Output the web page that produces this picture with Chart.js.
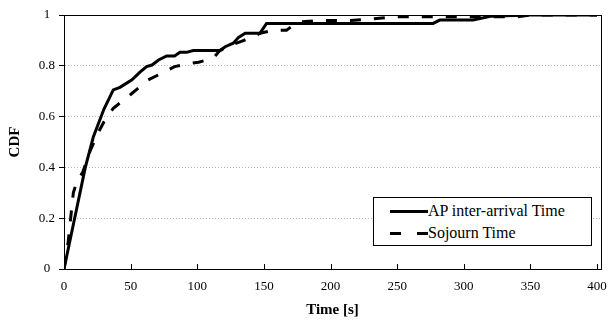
<!DOCTYPE html>
<html>
<head>
<meta charset="utf-8">
<script src="https://cdn.jsdelivr.net/npm/chart.js@4.4.0/dist/chart.umd.min.js"></script>
<style>
  html, body { margin: 0; padding: 0; background: #fff; }
  #wrap { position: relative; width: 610px; height: 322px; }
  #legend {
    position: absolute; left: 373px; top: 197px; width: 217px; height: 47px;
    border: 1px solid #000; background: #fff;
    font-family: "Liberation Serif", "Times New Roman", serif; font-size: 16px; color: #000;
  }
  .row { position: absolute; left: 0; height: 20px; line-height: 20px; }
  .row span.txt { position: absolute; left: 54px; white-space: nowrap; }
  .seg { position: absolute; height: 3px; background: #000; }
</style>
</head>
<body>
<div id="wrap">
  <canvas id="c" width="610" height="322"></canvas>
  <div id="legend">
    <div class="row" style="top:3px;width:217px;">
      <div class="seg" style="left:16px;top:9px;width:38px;"></div>
      <span class="txt">AP inter-arrival Time</span>
    </div>
    <div class="row" style="top:25px;width:217px;">
      <div class="seg" style="left:16px;top:9px;width:11px;"></div>
      <div class="seg" style="left:43px;top:9px;width:11px;"></div>
      <span class="txt">Sojourn Time</span>
    </div>
  </div>
</div>
<script>
// ---- data ----
const seriesNames = ["AP inter-arrival Time", "Sojourn Time"];

const apTime = [0, 8, 16, 22, 30, 37, 42, 51, 57, 62, 66, 71, 77, 83, 87, 92, 97, 117, 121, 127, 131, 136, 147, 152, 277, 282, 307, 320, 350, 400];
const apCdf  = [0, 0.2, 0.4, 0.52, 0.63, 0.705, 0.715, 0.745, 0.775, 0.797, 0.803, 0.823, 0.839, 0.839, 0.853, 0.853, 0.86, 0.86, 0.875, 0.889, 0.912, 0.928, 0.928, 0.967, 0.967, 0.98, 0.98, 0.995, 1, 1];

const sojTime = [0, 3, 5, 7, 10, 14, 20, 26, 30, 37, 50, 63, 78, 83, 95, 101, 112, 117, 125, 135, 142, 147, 157, 167, 175, 190, 215, 231, 249, 340, 350, 400];
const sojCdf  = [0, 0.1, 0.2, 0.3, 0.35, 0.38, 0.47, 0.54, 0.58, 0.633, 0.687, 0.744, 0.783, 0.797, 0.81, 0.814, 0.83, 0.86, 0.88, 0.9, 0.915, 0.928, 0.94, 0.94, 0.972, 0.978, 0.978, 0.984, 0.993, 0.993, 1, 1];

const xTicks = [0, 50, 100, 150, 200, 250, 300, 350, 400];
const yTicks = [0, 0.2, 0.4, 0.6, 0.8, 1];

const toPts = (xs, ys) => xs.map((x, i) => ({ x: x, y: ys[i] }));

const frame = {
  id: 'frame',
  afterDraw(chart) {
    const { ctx, chartArea: a, scales } = chart;
    ctx.save();
    ctx.strokeStyle = '#000';
    ctx.lineWidth = 1;
    ctx.strokeRect(Math.round(a.left) + 0.5, Math.round(a.top) + 0.5,
                   Math.round(a.right - a.left), Math.round(a.bottom - a.top));
    // inward x ticks
    ctx.beginPath();
    xTicks.forEach(v => {
      const px = Math.round(scales.x.getPixelForValue(v)) + 0.5;
      ctx.moveTo(px, a.bottom);
      ctx.lineTo(px, a.bottom - 5);
    });
    ctx.stroke();
    ctx.restore();
  }
};

const serif = '"Liberation Serif", "Times New Roman", serif';

new Chart(document.getElementById('c'), {
  type: 'line',
  data: {
    datasets: [
      { label: seriesNames[0], data: toPts(apTime, apCdf), borderColor: '#000', borderWidth: 3,
        pointRadius: 0, tension: 0, fill: false },
      { label: seriesNames[1], data: toPts(sojTime, sojCdf), borderColor: '#000', borderWidth: 3,
        borderDash: [11, 13], pointRadius: 0, tension: 0, fill: false }
    ]
  },
  options: {
    responsive: false,
    devicePixelRatio: 1,
    animation: false,
    layout: { padding: { left: 0, right: 9, top: 15, bottom: 0 } },
    plugins: { legend: { display: false }, tooltip: { enabled: false } },
    scales: {
      x: {
        type: 'linear', min: 0, max: 403,
        afterBuildTicks: s => { s.ticks = xTicks.map(v => ({ value: v })); },
        afterFit: s => { s.height = 53; s.paddingRight = 0; },
        grid: { display: true, drawOnChartArea: false, drawTicks: false },
        border: { display: true, color: '#000', width: 1 },
        ticks: { color: '#000', font: { family: serif, size: 13 }, padding: 10, maxRotation: 0 },
        title: { display: true, text: 'Time [s]', color: '#000',
                 font: { family: serif, size: 15, weight: 'bold' }, padding: { top: 2, bottom: 3 } }
      },
      y: {
        type: 'linear', min: 0, max: 1,
        afterBuildTicks: s => { s.ticks = yTicks.map(v => ({ value: v })); },
        afterFit: s => { s.width = 64; },
        grid: {
          drawOnChartArea: true, drawTicks: true, tickLength: 5, tickColor: '#000',
          color: ctx => (ctx.tick && (ctx.tick.value === 0 || ctx.tick.value === 1)) ? 'rgba(0,0,0,0)' : '#b8b8b8',
          lineWidth: 1
        },
        border: { display: true, color: '#000', width: 1, dash: [1, 2] },
        ticks: { color: '#000', font: { family: serif, size: 13 }, padding: 4, crossAlign: 'center',
                 callback: v => String(v) },
        title: { display: true, text: 'CDF', color: '#000',
                 font: { family: serif, size: 15, weight: 'bold' }, padding: { top: 6, bottom: 4 } }
      }
    }
  },
  plugins: [frame]
});
</script>
</body>
</html>
